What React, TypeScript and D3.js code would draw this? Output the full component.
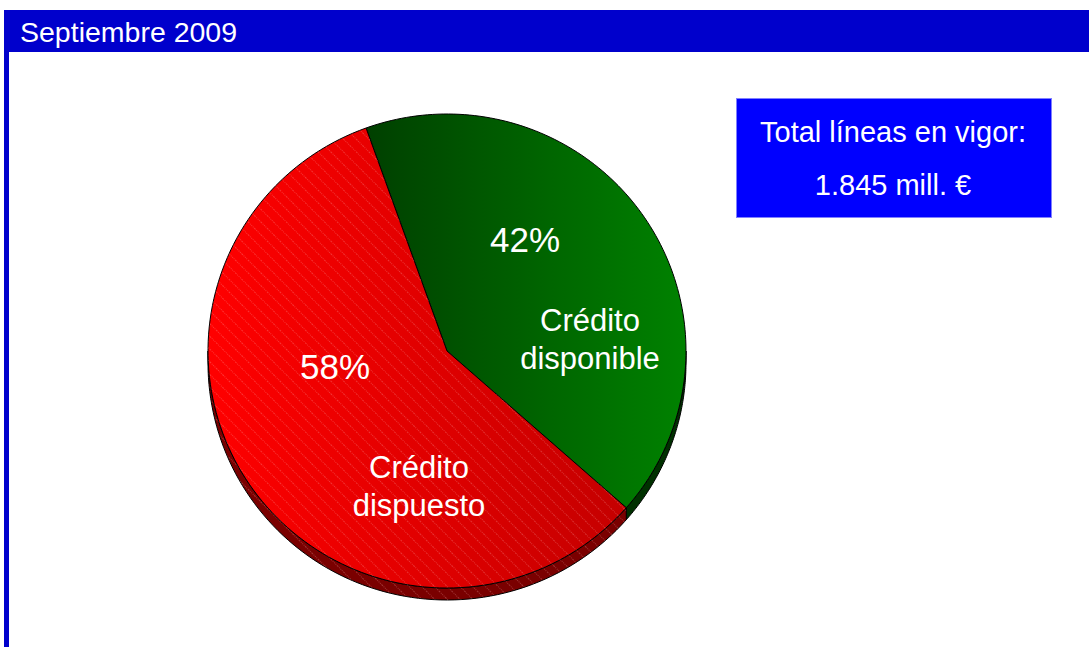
import React from "react";
import * as d3 from "d3";

const categories = ["Crédito disponible", "Crédito dispuesto"];
const values = [42, 58];
const percentLabels = ["42%", "58%"];
const title = "Septiembre 2009";
const boxLines = ["Total líneas en vigor:", "1.845 mill. €"];

const W = 1089;
const H = 647;
const cx = 447;
const cy = 351;
const rx = 239;
const ry = 237;
const depth = 12;
const startDeg = -19.8;
const FONT = "'Liberation Sans', Arial, sans-serif";

export default function App() {
  const start = (startDeg * Math.PI) / 180;
  const pie = d3
    .pie<number>()
    .sort(null)
    .value((d) => d)
    .startAngle(start)
    .endAngle(start + 2 * Math.PI);
  const arcs = pie(values);

  const pt = (a: number, dy = 0): [number, number] => [cx + rx * Math.sin(a), cy - ry * Math.cos(a) + dy];

  const sidePath = (a0: number, a1: number) => {
    const lo = Math.max(a0, Math.PI / 2);
    const hi = Math.min(a1, (3 * Math.PI) / 2);
    if (hi <= lo) return null;
    const n = 80;
    const top: [number, number][] = d3.range(n + 1).map((i) => pt(lo + ((hi - lo) * i) / n));
    const bot: [number, number][] = d3.range(n + 1).map((i) => pt(hi - ((hi - lo) * i) / n, depth));
    return d3.line()([...top, ...bot]) + "Z";
  };

  const faceFill = ["url(#gGreen)", "url(#gRed)"];
  const sideFill = ["#003000", "#7a0000"];
  const hatched = [false, true];

  const labelPct: [number, number][] = [
    [525, 252],
    [335, 379],
  ];
  const labelCat: [number, number][] = [
    [590, 331],
    [419, 478],
  ];

  return (
    <svg width={W} height={H} style={{ position: "absolute", left: 0, top: 0 }}>
      <defs>
        <linearGradient id="gGreen" gradientUnits="userSpaceOnUse" x1={cx - 80} y1={0} x2={cx + rx} y2={0}>
          <stop offset="0" stopColor="#004000" />
          <stop offset="1" stopColor="#008200" />
        </linearGradient>
        <linearGradient id="gRed" gradientUnits="userSpaceOnUse" x1={cx - rx} y1={0} x2={cx + 180} y2={0}>
          <stop offset="0" stopColor="#ff0000" />
          <stop offset="1" stopColor="#c40000" />
        </linearGradient>
        <pattern id="hatch" patternUnits="userSpaceOnUse" width={9} height={9} patternTransform="rotate(-45)">
          <line x1={0} y1={0} x2={0} y2={9} stroke="rgba(255,190,190,0.55)" strokeWidth={1} strokeDasharray="1,1" />
        </pattern>
      </defs>
      <rect x={0} y={0} width={W} height={H} fill="#ffffff" />
      <rect x={4} y={10} width={W - 4} height={42} fill="#0000cc" />
      <rect x={4} y={10} width={5} height={H - 10} fill="#0000cc" />
      <text x={20} y={42} fill="#ffffff" fontFamily={FONT} fontSize={28.5}>
        {title}
      </text>

      {arcs.map((a, i) => {
        const p = sidePath(a.startAngle, a.endAngle);
        if (!p) return null;
        return (
          <g key={"s" + i}>
            <path d={p} fill={sideFill[i]} stroke="#000" strokeWidth={1} />
            {hatched[i] && <path d={p} fill="url(#hatch)" />}
          </g>
        );
      })}

      {arcs.map((a, i) => {
        const n = 120;
        const ptsArc: [number, number][] = d3
          .range(n + 1)
          .map((k) => pt(a.startAngle + ((a.endAngle - a.startAngle) * k) / n));
        const d = d3.line()([[cx, cy], ...ptsArc]) + "Z";
        return (
          <g key={"u" + i}>
            <path d={d} fill={faceFill[i]} stroke="#000" strokeWidth={1} strokeLinejoin="round" />
            {hatched[i] && <path d={d} fill="url(#hatch)" />}
          </g>
        );
      })}

      {arcs.map((a, i) => (
        <g key={"l" + i} fontFamily={FONT} fill="#ffffff" textAnchor="middle">
          <text x={labelPct[i][0]} y={labelPct[i][1]} fontSize={35}>
            {percentLabels[i]}
          </text>
          {categories[i].split(" ").map((w, k) => (
            <text key={k} x={labelCat[i][0]} y={labelCat[i][1] + k * 38} fontSize={31}>
              {w}
            </text>
          ))}
        </g>
      ))}

      <rect x={736.5} y={98.5} width={315} height={119} fill="#0000ff" stroke="#8080ff" strokeWidth={1} />
      {boxLines.map((t, k) => (
        <text
          key={k}
          x={893}
          y={142 + k * 53}
          fill="#ffffff"
          fontFamily={FONT}
          fontSize={29}
          textAnchor="middle"
        >
          {t}
        </text>
      ))}
    </svg>
  );
}
